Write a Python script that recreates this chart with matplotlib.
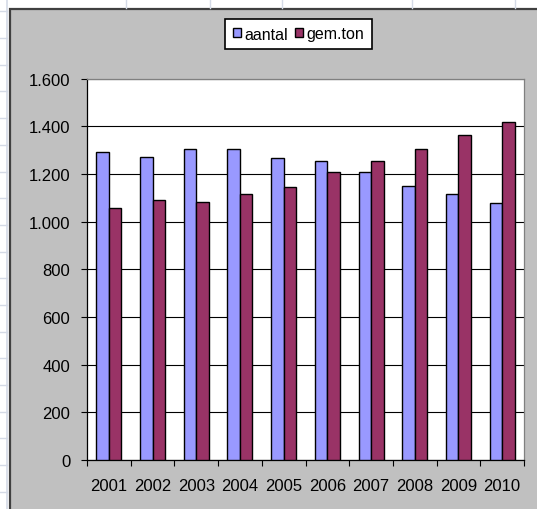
import matplotlib
matplotlib.use("Agg")
import matplotlib.pyplot as plt
from matplotlib.patches import Rectangle
from matplotlib.lines import Line2D
from matplotlib.ticker import FixedLocator, FuncFormatter

years = ["2001", "2002", "2003", "2004", "2005", "2006", "2007", "2008", "2009", "2010"]
aantal = [1292, 1272, 1304, 1304, 1265, 1252, 1206, 1150, 1116, 1076]
gem_ton = [1058, 1090, 1083, 1116, 1144, 1206, 1252, 1304, 1361, 1417]
series_names = ["aantal", "gem.ton"]
yticks = [0, 200, 400, 600, 800, 1000, 1200, 1400, 1600]

plt.rcParams['font.family'] = ['Liberation Sans', 'DejaVu Sans']

W, H = 537, 510
fig = plt.figure(figsize=(W / 100, H / 100), dpi=100, facecolor="white")

# background "spreadsheet" and chart area in pixel coords
bg = fig.add_axes([0, 0, 1, 1], zorder=-5)
bg.set_xlim(0, W)
bg.set_ylim(H, 0)
bg.axis("off")
cell = "#D4DAE6"
for x in [126, 210, 282, 412, 515]:
    bg.add_line(Line2D([x, x], [0, 9], color=cell, lw=1))
bg.add_line(Line2D([7, 7], [0, H], color=cell, lw=1.2))
y = 12.3
while y < H:
    bg.add_line(Line2D([0, 7], [y, y], color=cell, lw=1))
    y += 26.7
bg.add_patch(Rectangle((9.5, 9.5), W, H, facecolor="#C0C0C0",
                       edgecolor="#404040", lw=1.6))

# plot area
left, right, top, bottom = 87, 524, 79.5, 461
ax = fig.add_axes([left / W, 1 - bottom / H, (right - left) / W, (bottom - top) / H])
ax.set_facecolor("white")

n = len(years)
xs = list(range(n))
w = 0.286
ax.bar([x - w / 2 for x in xs], aantal, width=w, color="#9999FF",
       edgecolor="black", linewidth=1.0, label=series_names[0], zorder=3)
ax.bar([x + w / 2 for x in xs], gem_ton, width=w, color="#993366",
       edgecolor="black", linewidth=1.0, label=series_names[1], zorder=3)

ax.set_xlim(-0.5, n - 0.5)
ax.set_ylim(0, 1600)
ax.set_yticks(yticks)
ax.yaxis.set_major_formatter(FuncFormatter(lambda v, p: f"{int(v):,}".replace(",", ".")))
ax.yaxis.grid(True, color="black", lw=0.8, zorder=1)
ax.set_axisbelow(True)

ax.xaxis.set_major_locator(FixedLocator([i - 0.5 for i in range(n + 1)]))
ax.xaxis.set_major_formatter(FuncFormatter(lambda v, p: ""))
ax.xaxis.set_minor_locator(FixedLocator(xs))
ax.set_xticklabels(years, minor=True)
ax.tick_params(axis="x", which="major", direction="out", length=4, width=0.8, color="black")
ax.tick_params(axis="x", which="minor", length=0, pad=13, labelsize=12)
ax.tick_params(axis="y", direction="out", length=4, width=0.8, pad=8, labelsize=12)

for s in ["left", "bottom"]:
    ax.spines[s].set_color("black")
    ax.spines[s].set_linewidth(0.9)
for s in ["top", "right"]:
    ax.spines[s].set_color("#808080")
    ax.spines[s].set_linewidth(0.9)

leg = fig.legend(loc="center", bbox_to_anchor=(298.5 / W, 1 - 35 / H), ncol=2,
                 fontsize=11.5, frameon=True, fancybox=False, edgecolor="black",
                 facecolor="white", framealpha=1, handlelength=0.5, handleheight=0.5,
                 handletextpad=0.2, columnspacing=0.45, borderpad=0.5, borderaxespad=0)
leg.get_frame().set_linewidth(1.2)

fig.savefig("out.png", dpi=100, facecolor="white")
